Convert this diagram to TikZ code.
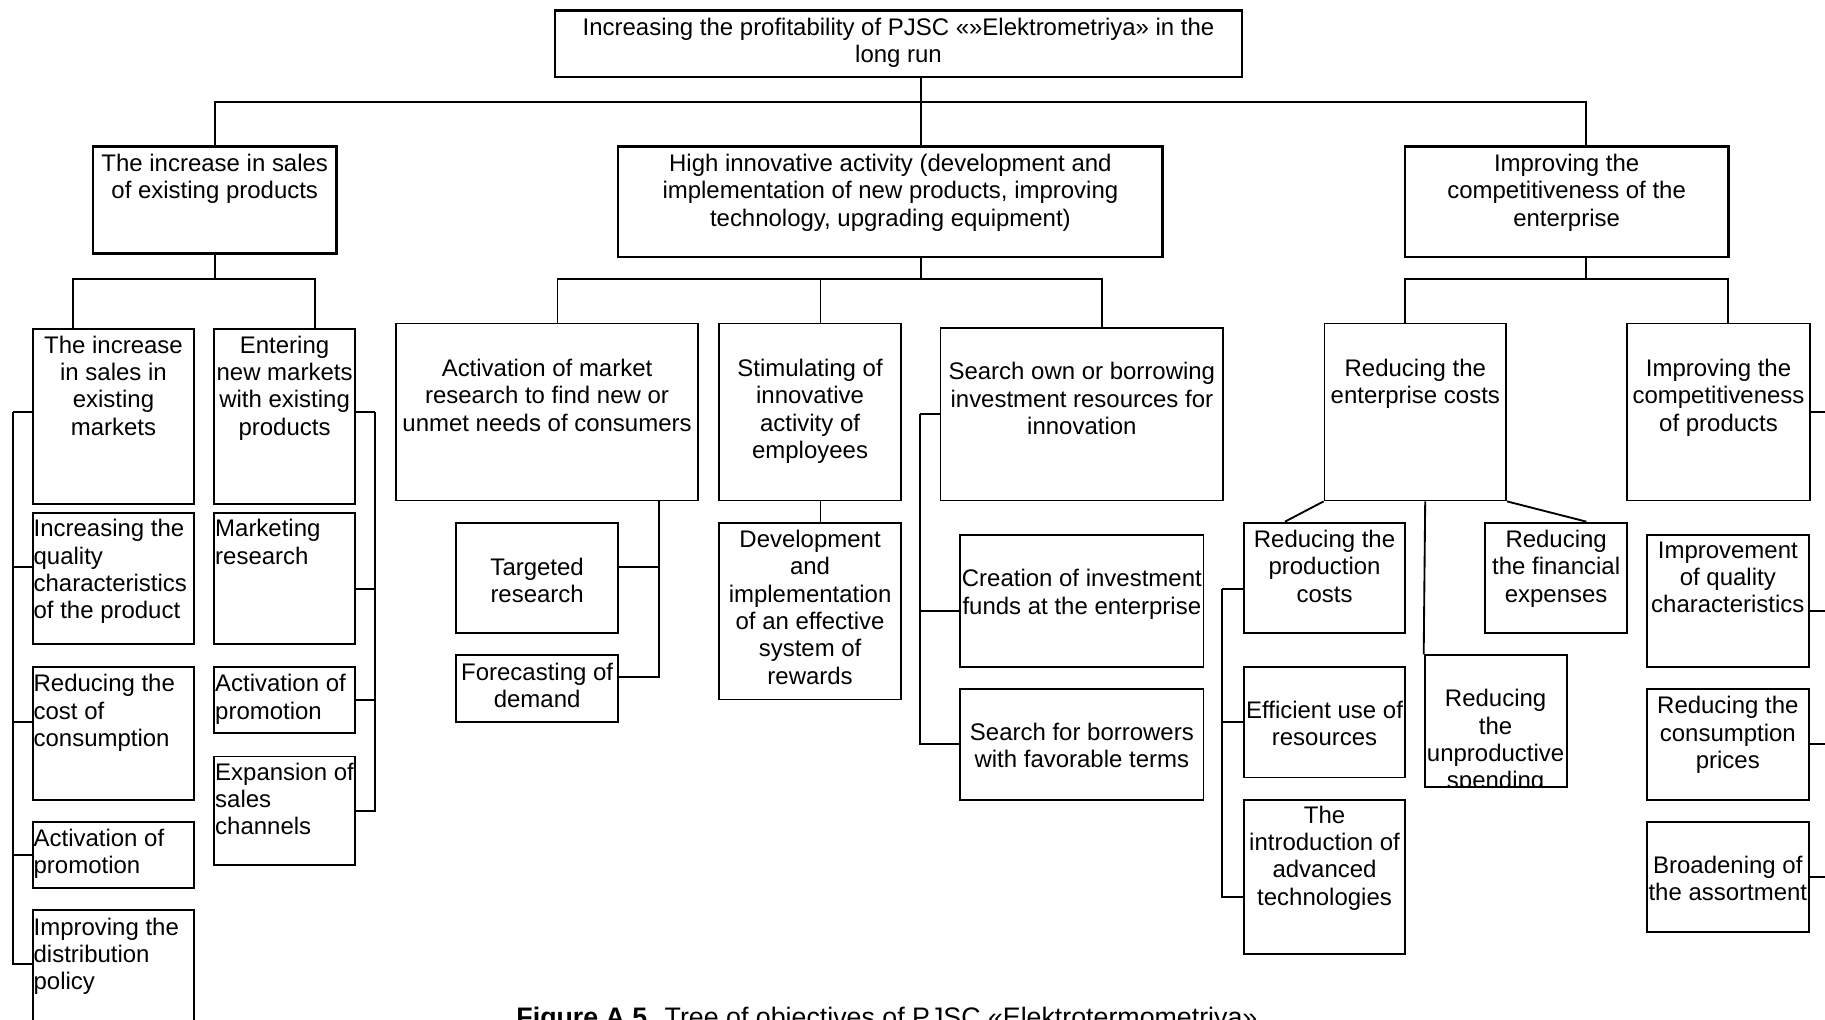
\documentclass[tikz,border=0pt]{standalone}
\usepackage{fontspec}
\setmainfont{Liberation Sans}
\usetikzlibrary{fit}

\begin{document}
\begin{tikzpicture}[x=0.5pt, y=-0.5pt,
    box/.style={draw, inner sep=0pt, line width=0.8pt},
    mainbox/.style={box, line width=1.1pt},
    txt/.style={anchor=north, inner sep=0pt, yshift=4pt, align=center,
        font=\fontsize{10.3}{11.75}\selectfont, execute at begin node=\strut},
    ltxt/.style={txt, anchor=north west, align=left},
    link/.style={line width=0.8pt}]

    \useasboundingbox (0,0) rectangle (1568,876);

    % Main goal
    \node[mainbox, fit={(477,9) (1067,66)}] (goal) {};
    \node[txt] (goalT) at (772,23) {Increasing the profitability of PJSC «»Elektrometriya» in the\\long run};

    % First level
    \node[mainbox, fit={(80,126) (289,218)}] (sales) {};
    \node[txt] (salesT) at (184.5,140) {The increase in sales\\of existing products};
    \node[mainbox, fit={(531,126) (999,221)}] (innov) {};
    \node[txt] (innovT) at (765,140) {High innovative activity (development and\\implementation of new products, improving\\technology, upgrading equipment)};
    \node[mainbox, fit={(1207,126) (1485,221)}] (compet) {};
    \node[txt] (competT) at (1346,140) {Improving the\\competitiveness of the\\enterprise};

    % Sales of existing products
    \node[box, fit={(28,283) (167,433)}] (oldMk) {};
    \node[txt] (oldMkT) at (97.5,296) {The increase\\in sales in\\existing\\markets};
    \node[box, fit={(184,283) (305,433)}] (newMk) {};
    \node[txt] (newMkT) at (244.5,296) {Entering\\new markets\\with existing\\products};

    \node[box, fit={(28,441) (167,553)}] (quality) {};
    \node[ltxt] (qualityT) at (28.5,454) {Increasing the\\quality\\characteristics\\of the product};
    \node[box, fit={(28,573) (167,687)}] (costCons) {};
    \node[ltxt] (costConsT) at (28.5,587) {Reducing the\\cost of\\consumption};
    \node[box, fit={(28,706) (167,763)}] (promoA) {};
    \node[ltxt] (promoAT) at (28.5,720) {Activation of\\promotion};
    \node[box, fit={(28,782) (167,890)}] (distrib) {};
    \node[ltxt] (distribT) at (28.5,796) {Improving the\\distribution\\policy};

    \node[box, fit={(184,441) (305,553)}] (mkRes) {};
    \node[ltxt] (mkResT) at (184.5,454) {Marketing\\research};
    \node[box, fit={(184,573) (305,630)}] (promoB) {};
    \node[ltxt] (promoBT) at (184.5,587) {Activation of\\promotion};
    \node[box, fit={(184,650) (305,743)}] (channels) {};
    \node[ltxt] (channelsT) at (184.5,663) {Expansion of\\sales\\channels};

    % Innovative activity
    \node[box, fit={(340,278) (600,430)}] (mkSearch) {};
    \node[txt] (mkSearchT) at (470,316) {Activation of market\\research to find new or\\unmet needs of consumers};
    \node[box, fit={(618,278) (774,430)}] (stim) {};
    \node[txt] (stimT) at (696,316) {Stimulating of\\innovative\\activity of\\employees};
    \node[box, fit={(808,282) (1051,430)}] (funds) {};
    \node[txt] (fundsT) at (929.5,319) {Search own or borrowing\\investment resources for\\innovation};

    \node[box, fit={(392,449) (531,544)}] (target) {};
    \node[txt] (targetT) at (461.5,487) {Targeted\\research};
    \node[box, fit={(392,563) (531,620)}] (forecast) {};
    \node[txt] (forecastT) at (461.5,577) {Forecasting of\\demand};
    \node[box, fit={(618,449) (774,601)}] (rewards) {};
    \node[txt] (rewardsT) at (696,463) {Development\\and\\implementation\\of an effective\\system of\\rewards};
    \node[box, fit={(825,460) (1034,573)}] (invFund) {};
    \node[txt] (invFundT) at (929.5,497) {Creation of investment\\funds at the enterprise};
    \node[box, fit={(825,592) (1034,687)}] (borrow) {};
    \node[txt] (borrowT) at (929.5,629) {Search for borrowers\\with favorable terms};

    % Competitiveness
    \node[box, fit={(1138,278) (1294,430)}] (costs) {};
    \node[txt] (costsT) at (1216,316) {Reducing the\\enterprise costs};
    \node[box, fit={(1398,278) (1555,430)}] (prodComp) {};
    \node[txt] (prodCompT) at (1476.5,316) {Improving the\\competitiveness\\of products};

    \node[box, fit={(1069,449) (1207,544)}] (prodCost) {};
    \node[txt] (prodCostT) at (1138,463) {Reducing the\\production\\costs};
    \node[box, fit={(1276,449) (1398,544)}] (finExp) {};
    \node[txt] (finExpT) at (1337,463) {Reducing\\the financial\\expenses};
    \node[box, fit={(1224,563) (1346,676)}] (unprod) {};
    \begin{scope}
        \clip (unprod.north west) rectangle (unprod.south east);
        \node[txt] (unprodT) at (1285,600) {Reducing\\the\\unproductive\\spending};
    \end{scope}
    \node[box, fit={(1069,573) (1207,668)}] (resources) {};
    \node[txt] (resourcesT) at (1138,610) {Efficient use of\\resources};
    \node[box, fit={(1069,687) (1207,820)}] (advTech) {};
    \node[txt] (advTechT) at (1138,700) {The\\introduction of\\advanced\\technologies};

    \node[box, fit={(1415,460) (1554,573)}] (quality2) {};
    \node[txt] (quality2T) at (1484.5,473) {Improvement\\of quality\\characteristics};
    \node[box, fit={(1415,592) (1554,687)}] (prices) {};
    \node[txt] (pricesT) at (1484.5,606) {Reducing the\\consumption\\prices};
    \node[box, fit={(1415,706) (1554,801)}] (assort) {};
    \node[txt] (assortT) at (1484.5,743) {Broadening of\\the assortment};

    % Caption
    \node[anchor=base, inner sep=0pt, font=\fontsize{11.5}{13}\selectfont] (caption) at (762,882)
        {\textbf{Figure A.5.} Tree of objectives of PJSC «Elektrotermometriya»};

    % Draw links: goal -> first level
    \coordinate (bus0) at (791,88);
    \coordinate (bus0r) at (1363,88);
    \draw[link] (goal.south -| bus0) -- (innov.north -| bus0);
    \draw[link] (sales.north) |- (bus0r) -- (compet.north -| bus0r);

    % Draw links: first level -> second level
    \coordinate (bus1) at (184.5,240);
    \draw[link] (sales.south) -- (bus1);
    \draw[link] ([xshift=-17.25pt]oldMk.north) |- (bus1) -| ([xshift=13.25pt]newMk.north);

    \coordinate (bus2) at (791,240);
    \draw[link] (innov.south -| bus2) -- (bus2);
    \draw[link] ([xshift=4.5pt]mkSearch.north) |- (bus2) -| ([xshift=8.75pt]funds.north);
    \draw[link] ([xshift=4.5pt]stim.north) |- (bus2);

    \coordinate (bus3) at (1363,240);
    \draw[link] (compet.south -| bus3) -- (bus3);
    \draw[link] ([xshift=-4.5pt]costs.north) |- (bus3) -| ([xshift=4.25pt]prodComp.north);

    % Draw brackets
    \coordinate (brA) at (11,354);
    \draw[link] ([yshift=2pt]oldMk.west) -- (brA);
    \foreach \n/\s in {quality/5pt, costCons/5pt, promoA/0pt, distrib/4pt}
        \draw[link] ([yshift=\s]\n.west) -| (brA);

    \coordinate (brB) at (322,354);
    \draw[link] ([yshift=2pt]newMk.east) -- (brB);
    \foreach \n/\s in {mkRes/-4.5pt, promoB/0pt, channels/0pt}
        \draw[link] ([yshift=\s]\n.east) -| (brB);

    \coordinate (brC) at ([xshift=48pt]mkSearch.south);
    \foreach \n in {target, forecast}
        \draw[link] ([yshift=4.75pt]\n.east) -| (brC);

    \draw[link] ([xshift=4.5pt]stim.south) -- ([xshift=4.5pt]rewards.north);

    \coordinate (brD) at ([xshift=-8.5pt]funds.west);
    \draw[link] (funds.west) -- (brD);
    \foreach \n/\s in {invFund/-4.25pt, borrow/0pt}
        \draw[link] ([yshift=\s]\n.west) -| (brD);

    \draw[link] (costs.south west) -- ([xshift=-17pt]prodCost.north);
    \draw[link] (costs.south east) -- ([xshift=13pt]finExp.north);
    \draw[link] ([xshift=4.25pt]costs.south) -- (unprod.north west);

    \coordinate (brE) at ([xshift=-9pt, yshift=-4.75pt]prodCost.west);
    \draw[link] ([yshift=-4.75pt]prodCost.west) -- (brE);
    \foreach \n/\s in {resources/0pt, advTech/-8.75pt}
        \draw[link] ([yshift=\s]\n.west) -| (brE);

    \coordinate (brF) at ([xshift=10pt]prodComp.east);
    \draw[link] (prodComp.east) -- (brF);
    \foreach \n/\s in {quality2/-4.25pt, prices/0pt, assort/0pt}
        \draw[link] ([yshift=\s]\n.east) -| (brF);

\end{tikzpicture}
\end{document}
